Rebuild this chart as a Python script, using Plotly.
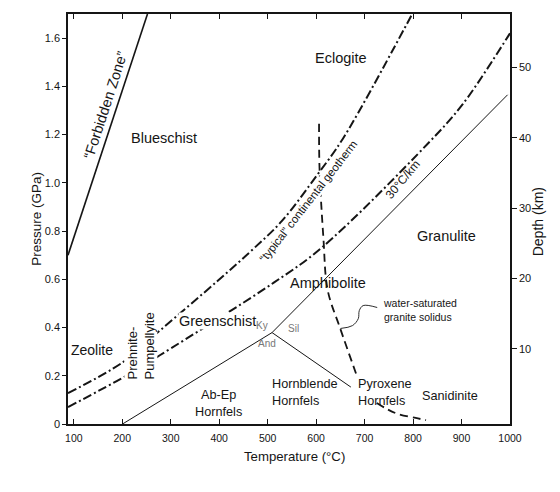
import plotly.graph_objects as go

# ---------------- data ----------------
temp_ticks = [100, 200, 300, 400, 500, 600, 700, 800, 900, 1000]
pres_ticks = [0, 0.2, 0.4, 0.6, 0.8, 1.0, 1.2, 1.4, 1.6]
pres_ticktext = ["0", "0.2", "0.4", "0.6", "0.8", "1.0", "1.2", "1.4", "1.6"]
depth_ticks = [10, 20, 30, 40, 50]

forbidden_T = [88, 252]
forbidden_P = [0.70, 1.70]

typical_geotherm_T = [88, 201, 278, 397, 466, 529, 603, 655.5, 787, 798]
typical_geotherm_P = [0.128, 0.256, 0.388, 0.594, 0.718, 0.841, 1.035, 1.184, 1.658, 1.70]

geotherm30_T = [88, 209.6, 277.5, 512.6, 610.9, 828.7, 901.7, 995, 1000]
geotherm30_P = [0.070, 0.202, 0.285, 0.586, 0.730, 1.159, 1.324, 1.604, 1.62]

ky_and_T = [200.5, 509]
ky_and_P = [0.0, 0.379]
ky_sil_T = [509, 995]
ky_sil_P = [0.379, 1.365]
and_sil_T = [509, 671.7]
and_sil_P = [0.379, 0.153]

solidus_hi_T = [606, 607, 615, 624, 649, 685]
solidus_hi_P = [1.245, 1.06, 0.771, 0.553, 0.400, 0.194]
solidus_lo_T = [725, 764, 805.4, 826.7]
solidus_lo_P = [0.087, 0.045, 0.025, 0.016]

leader_T = [650, 675, 687, 689, 697, 726]
leader_P = [0.396, 0.408, 0.437, 0.470, 0.491, 0.483]

FONT = "Liberation Sans, Arial, Helvetica, sans-serif"
INK = "#151515"

fig = go.Figure()

def line(x, y, width, dash="solid", shape="linear", color=INK):
    fig.add_trace(go.Scatter(x=x, y=y, mode="lines", hoverinfo="skip",
                             line=dict(color=color, width=width, dash=dash, shape=shape),
                             showlegend=False))

line(forbidden_T, forbidden_P, 1.6)
line(typical_geotherm_T, typical_geotherm_P, 2.0, dash="9px,3px,2px,3px", shape="spline")
line(geotherm30_T, geotherm30_P, 2.0, dash="9px,3px,2px,3px", shape="spline")
line(ky_and_T, ky_and_P, 1.0)
line(ky_sil_T, ky_sil_P, 1.0)
line(and_sil_T, and_sil_P, 1.0)
line(solidus_hi_T, solidus_hi_P, 1.8, dash="8px,5px", shape="spline")
line(solidus_lo_T, solidus_lo_P, 1.8, dash="8px,5px", shape="spline")
line(leader_T, leader_P, 0.9, shape="spline")

# invisible trace so the depth axis is drawn
fig.add_trace(go.Scatter(x=[500], y=[0.5], yaxis="y2", mode="markers",
                         marker=dict(opacity=0), hoverinfo="skip", showlegend=False))

labels = [
    # text, T, P, size, angle, xanchor, align, color, bg
    ("Eclogite", 652, 1.518, 14.5, 0, "center", "center", INK, None),
    ("Blueschist", 285.6, 1.184, 14.5, 0, "center", "center", INK, None),
    ("\u201cForbidden Zone\u201d", 165, 1.324, 14.5, -72, "center", "center", INK, None),
    ("Greenschist", 397, 0.429, 14.5, 0, "center", "center", INK, "white"),
    ("Zeolite", 137.7, 0.305, 14, 0, "center", "center", INK, None),
    ("Prehnite-<br>Pumpellyite", 239, 0.322, 13, -90, "center", "left", INK, "white"),
    ("Ky", 489, 0.408, 10, 0, "center", "center", "#777", None),
    ("And", 499, 0.334, 10, 0, "center", "center", "#777", None),
    ("Sil", 553, 0.396, 10, 0, "center", "center", "#777", None),
    ("Ab-Ep<br>Hornfels", 398, 0.087, 12.7, 0, "center", "center", INK, None),
    ("Hornblende<br>Hornfels", 577, 0.132, 12.7, 0, "center", "left", INK, None),
    ("Pyroxene<br>Hornfels", 682, 0.132, 12.7, 0, "left", "left", INK, None),
    ("Sanidinite", 877, 0.115, 12.7, 0, "center", "center", INK, None),
    ("Amphibolite", 625, 0.585, 14.5, 0, "center", "center", INK, None),
    ("Granulite", 868, 0.779, 14.5, 0, "center", "center", INK, None),
    ("water-saturated<br>granite solidus", 733.5, 0.472, 10.5, 0, "left", "left", INK, None),
    ("\u201ctypical\u201d continental geotherm", 584.5, 0.924, 11.5, -52, "center", "center", INK, "white"),
    ("30\u00b0C/km", 780, 1.014, 12, -50, "center", "center", INK, None),
]
for text, t, p, size, ang, xa, al, col, bg in labels:
    kw = {}
    if bg:
        kw = dict(bgcolor=bg, borderpad=0)
    fig.add_annotation(x=t, y=p, xref="x", yref="y", text=text, showarrow=False,
                       textangle=ang, xanchor=xa, yanchor="middle", align=al,
                       font=dict(family=FONT, size=size, color=col), **kw)

# axis titles
fig.add_annotation(x=0.512, y=-0.080, xref="paper", yref="paper", text="Temperature (\u00b0C)",
                   showarrow=False, font=dict(family=FONT, size=13.2, color=INK),
                   xanchor="center", yanchor="middle")
fig.add_annotation(x=-0.073, y=0.50, xref="paper", yref="paper", text="Pressure (GPa)",
                   showarrow=False, textangle=-90, font=dict(family=FONT, size=13.5, color=INK),
                   xanchor="center", yanchor="middle")
fig.add_annotation(x=1.062, y=0.493, xref="paper", yref="paper", text="Depth (km)",
                   showarrow=False, textangle=-90, font=dict(family=FONT, size=14, color=INK),
                   xanchor="center", yanchor="middle")

fig.update_layout(
    width=560, height=492,
    margin=dict(l=68, r=50, t=12, b=68),
    paper_bgcolor="white", plot_bgcolor="white",
    showlegend=False,
    font=dict(family=FONT, color=INK),
    xaxis=dict(range=[88, 1000], tickvals=temp_ticks, ticks="inside", ticklen=5,
               tickwidth=1.3, tickcolor=INK, showline=True, linecolor=INK, linewidth=1.6,
               mirror="ticks", showgrid=False, zeroline=False, ticklabelstandoff=4,
               tickfont=dict(family=FONT, size=10.5, color=INK)),
    yaxis=dict(range=[0, 1.7], tickvals=pres_ticks, ticktext=pres_ticktext, ticks="outside",
               ticklen=4, tickwidth=1.3, tickcolor=INK, showline=True, linecolor=INK,
               linewidth=1.6, showgrid=False, zeroline=False,
               tickfont=dict(family=FONT, size=11, color=INK)),
    yaxis2=dict(range=[-0.7, 57.6], tickvals=depth_ticks, overlaying="y", side="right",
                ticks="outside", ticklen=5, tickwidth=1.3, tickcolor=INK, showline=True,
                linecolor=INK, linewidth=1.6, showgrid=False, zeroline=False,
                tickfont=dict(family=FONT, size=11, color=INK)),
)

fig.write_html("out.html")
